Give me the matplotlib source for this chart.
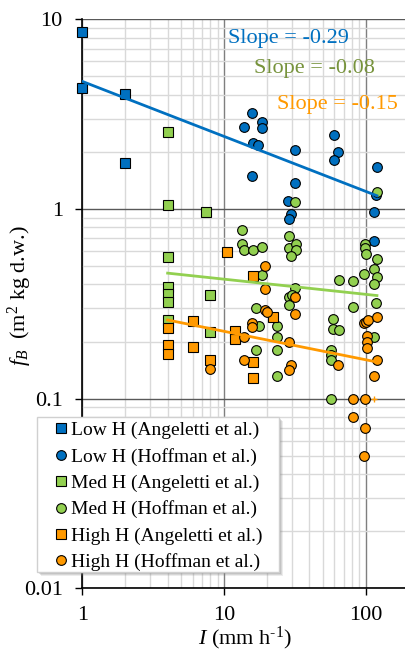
import matplotlib.pyplot as plt
from matplotlib.patches import Rectangle

plt.rcParams['font.family'] = ['Liberation Serif', 'DejaVu Serif']
plt.rcParams['mathtext.fontset'] = 'custom'
plt.rcParams['mathtext.rm'] = 'Liberation Serif'
plt.rcParams['mathtext.it'] = 'Liberation Serif:italic'

# Angeletti et al. (squares)
low_ang_x = [1, 1, 2, 2]
low_ang_y = [8.6, 4.35, 4.05, 1.74]
med_ang_x = [4, 4, 4, 4, 4, 4, 4, 7.5, 8, 8]
med_ang_y = [2.54, 1.05, 0.558, 0.39, 0.356, 0.324, 0.26, 0.96, 0.35, 0.224]
high_ang_x = [4, 4, 4, 6, 6, 8, 10.5, 12, 12, 16, 16, 16, 22]
high_ang_y = [0.235, 0.192, 0.172, 0.257, 0.188, 0.159, 0.593, 0.228, 0.206,
              0.441, 0.157, 0.128, 0.269]

# Hoffman et al. (circles)
low_hof_x = [15.7, 13.9, 18.5, 18.5, 16, 17.5, 15.7, 31.7, 31.7, 28.4, 29.6,
             28.7, 59.7, 64.1, 59.7, 120.7, 118.8, 114.5, 114.5]
low_hof_y = [3.21, 2.70, 2.86, 2.68, 2.23, 2.18, 1.49, 2.06, 1.37, 1.10, 0.944,
             0.889, 2.45, 2.01, 1.805, 1.66, 1.18, 0.964, 0.68]
med_hof_x = [13.5, 13.5, 13.9, 16, 18.6, 28.7, 28.7, 32, 32, 29.7,
             18.6, 31.7, 28.7, 30, 28.7, 16.9, 17.7, 16.9,
             23.8, 23.8, 23.8, 23.8, 31.7, 120,
             64.5, 81, 81, 59, 59, 65, 56.6, 56.6, 56.6, 56.6,
             99, 99, 100, 98, 120, 115, 121, 114, 118, 115]
med_hof_y = [0.778, 0.656, 0.605, 0.61, 0.63, 0.723, 0.622, 0.656, 0.61, 0.562,
             0.45, 0.383, 0.343, 0.35, 0.31, 0.30, 0.242, 0.181,
             0.242, 0.212, 0.181, 0.131, 1.083, 1.224,
             0.42, 0.415, 0.303, 0.263, 0.233, 0.231, 0.181, 0.17, 0.16, 0.1,
             0.654, 0.622, 0.581, 0.454, 0.545, 0.482, 0.438, 0.404, 0.321, 0.211]
high_hof_x = [19.6, 19.6, 19.6, 20, 15.7, 15.7, 13.9, 13.9, 7.95, 31.7, 31.7,
              28.7, 29.6, 28.7, 64, 97, 100, 104, 120, 102, 102, 102, 120, 115,
              81, 98.5, 81, 98.5, 98]
high_hof_y = [0.502, 0.378, 0.294, 0.285, 0.252, 0.238, 0.211, 0.16, 0.143, 0.342,
              0.28, 0.2, 0.151, 0.141, 0.151, 0.25, 0.255, 0.26, 0.271, 0.213,
              0.198, 0.186, 0.16, 0.131, 0.1, 0.1, 0.08, 0.07, 0.05]
high_h_plus_x = [114.5]
high_h_plus_y = [0.1]

# power-law fits: y = coef * x ** slope
fit_slopes = [-0.29, -0.08, -0.15]
fit_coefs = [4.71, 0.513, 0.32]
fit_ranges = [(1, 120), (4, 120), (4, 120)]

blue = '#0070C0'
green = '#92D050'
orange = '#FF9900'

W, H = 406, 655


def fx(px):
    return px / W


def fy(py):
    return 1 - py / H


fig = plt.figure(figsize=(W / 100, H / 100), dpi=100)
ax = fig.add_axes([fx(82.3), fy(588.3), (408.4 - 82.3) / W, (588.3 - 19.4) / H])
ax.set_xscale('log')
ax.set_yscale('log')
ax.set_xlim(1, 200)
ax.set_ylim(0.01, 10)

mk = dict(linestyle='none', ms=7, markeredgecolor='black', markeredgewidth=0.8,
          zorder=3, clip_on=False)
ax.plot(low_ang_x, low_ang_y, 's', color=blue, label='Low H (Angeletti et al.)', **mk)
ax.plot(low_hof_x, low_hof_y, 'o', color=blue, label='Low H (Hoffman et al.)', **mk)
ax.plot(med_ang_x, med_ang_y, 's', color=green, label='Med H (Angeletti et al.)', **mk)
ax.plot(med_hof_x, med_hof_y, 'o', color=green, label='Med H (Hoffman et al.)', **mk)
ax.plot(high_ang_x, high_ang_y, 's', color=orange, label='High H (Angeletti et al.)', **mk)
ax.plot(high_hof_x, high_hof_y, 'o', color=orange, label='High H (Hoffman et al.)', **mk)
ax.plot(high_h_plus_x, high_h_plus_y, '+', color=orange, ms=4, mew=1, zorder=3)

for slope, coef, (x0, x1), c in zip(fit_slopes, fit_coefs, fit_ranges, [blue, green, orange]):
    ax.plot([x0, x1], [coef * x0 ** slope, coef * x1 ** slope], color=c, lw=2, zorder=4)

# grid
ax.grid(which='minor', color='#D9D9D9', lw=1)
ax.grid(which='major', axis='x', color='#7F7F7F', lw=1)
ax.grid(which='major', axis='y', color='#595959', lw=1)
ax.set_axisbelow(True)

for s in ['top', 'right']:
    ax.spines[s].set_visible(False)
for s in ['left', 'bottom']:
    ax.spines[s].set_color('black')
    ax.spines[s].set_linewidth(1.2)

ax.set_xticks([1, 10, 100])
ax.set_xticklabels(['1', '10', '100'])
ax.set_yticks([0.01, 0.1, 1, 10])
ax.set_yticklabels(['0.01', '0.1', '1', '10'])
ax.tick_params(which='major', direction='out', length=5, width=1, labelsize=16)
ax.tick_params(axis='y', pad=9)
ax.tick_params(axis='x', pad=8)
ax.tick_params(which='minor', length=0)

fig.text(fx(20), fy(296), r'$f_B$  (m$^2$ kg d.w.)', rotation=90,
         ha='center', va='center', fontsize=16)
fig.text(fx(245), fy(638), r'$I$ (mm h$^{\text{-1}}$)', ha='center', va='center', fontsize=16)

fig.text(fx(228), fy(38), 'Slope = -0.29', color=blue, fontsize=16, va='center')
fig.text(fx(254), fy(68), 'Slope = -0.08', color='#77933C', fontsize=16, va='center')
fig.text(fx(277), fy(105), 'Slope = -0.15', color=orange, fontsize=16, va='center')

# legend box with a soft shadow
bx0, bx1, by0, by1 = 36.7, 279.3, 416.7, 571.7
for off, a in [(4, 0.15), (3, 0.2), (2, 0.25)]:
    fig.add_artist(Rectangle((fx(bx0 + off), fy(by1 + off)), (bx1 - bx0) / W, (by1 - by0) / H,
                             transform=fig.transFigure, facecolor='#808080', alpha=a,
                             edgecolor='none', zorder=5))
fig.add_artist(Rectangle((fx(bx0), fy(by1)), (bx1 - bx0) / W, (by1 - by0) / H,
                         transform=fig.transFigure, facecolor='white',
                         edgecolor='#D0D0D0', lw=1, zorder=5))
leg = fig.legend(loc='upper left', bbox_to_anchor=(fx(56.5), fy(421.5)),
                 bbox_transform=fig.transFigure, frameon=False, fontsize=14,
                 handlelength=0.5, handletextpad=0.25, borderpad=0, borderaxespad=0,
                 labelspacing=0.44)
leg.set_zorder(6)

fig.savefig('out.png', dpi=100)
